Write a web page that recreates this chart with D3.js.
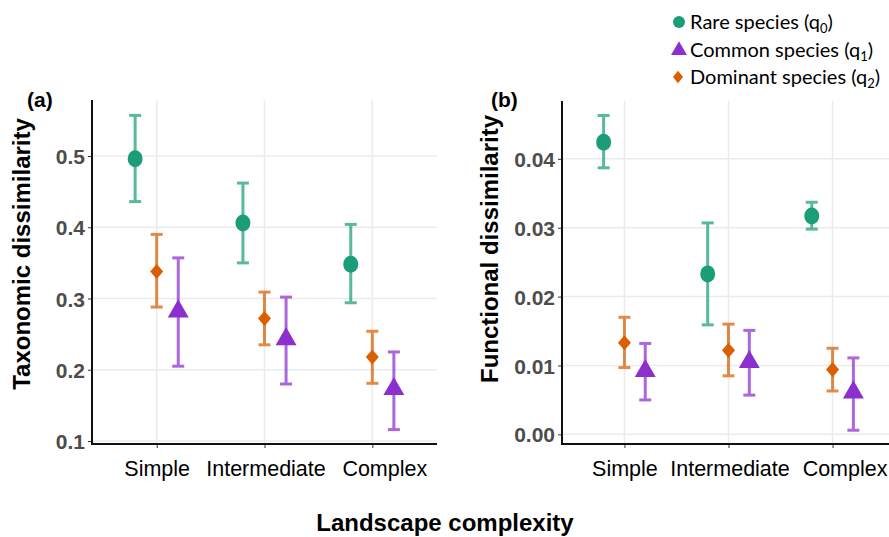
<!DOCTYPE html>
<html>
<head>
<meta charset="utf-8">
<script src="https://cdn.jsdelivr.net/npm/d3@7"></script>
<style>
  body { margin: 0; background: #fff; }
  svg { display: block; }
  .arial { font-family: 'Liberation Sans', Arial, Helvetica, sans-serif; }
</style>
</head>
<body>
<svg id="chart" width="889" height="537"></svg>
<script>
// categories and series
const categories = ['Simple', 'Intermediate', 'Complex']

// (a) taxonomic dissimilarity: mean, lower, upper
const taxRare = [0.496, 0.406, 0.348]
const taxRareLo = [0.436, 0.350, 0.294]
const taxRareHi = [0.557, 0.462, 0.404]
const taxDom = [0.338, 0.272, 0.218]
const taxDomLo = [0.288, 0.235, 0.181]
const taxDomHi = [0.390, 0.309, 0.254]
const taxCom = [0.282, 0.243, 0.173]
const taxComLo = [0.205, 0.180, 0.116]
const taxComHi = [0.357, 0.302, 0.225]

// (b) functional dissimilarity
const funRare = [0.0424, 0.0233, 0.0317]
const funRareLo = [0.0387, 0.0159, 0.0298]
const funRareHi = [0.0463, 0.0307, 0.0337]
const funDom = [0.0133, 0.0122, 0.0094]
const funDomLo = [0.0097, 0.0085, 0.0063]
const funDomHi = [0.0170, 0.0160, 0.0125]
const funCom = [0.0092, 0.0105, 0.0061]
const funComLo = [0.0050, 0.0057, 0.0006]
const funComHi = [0.0132, 0.0151, 0.0111]

const taxTicks = [0.1, 0.2, 0.3, 0.4, 0.5]
const funTicks = [0, 0.01, 0.02, 0.03, 0.04]

const colors = { rare: '#1b9e77', dominant: '#d95f02', common: '#8b2fcf' }
const dodge = { rare: -0.2, dominant: 0, common: 0.2 }
// category labels sit a little right of their ticks in the original
const labelShift = [0, 1, 12]

function rows(mean, lo, hi, key) {
    return categories.map((c, i) => ({ cat: c, key: key, v: mean[i], lo: lo[i], hi: hi[i] }))
}

const svg = d3.select('#chart')

function panel(opts) {
    const g = svg.append('g')
    const x = d3.scalePoint().domain(categories).range([opts.left, opts.right]).padding(0.6)
    const y = d3.scaleLinear().domain(opts.domain).range([opts.bottom, opts.top])
    const step = x.step()

    // grid
    g.selectAll('.hgrid').data(opts.ticks).enter().append('line')
        .attr('x1', opts.left).attr('x2', opts.right)
        .attr('y1', d => y(d)).attr('y2', d => y(d))
        .style('stroke', '#ebebeb').style('stroke-width', 1.5)
    g.selectAll('.vgrid').data(categories).enter().append('line')
        .attr('x1', d => x(d)).attr('x2', d => x(d))
        .attr('y1', opts.top).attr('y2', opts.bottom)
        .style('stroke', '#ebebeb').style('stroke-width', 1.5)

    // axes
    const yAxis = d3.axisLeft(y).tickValues(opts.ticks).tickFormat(d3.format(opts.fmt)).tickSize(4).tickPadding(3)
    const ya = g.append('g').attr('transform', `translate(${opts.left},0)`).call(yAxis)
    ya.attr('font-family', null)
    ya.select('.domain').remove()
    ya.selectAll('line').style('stroke', '#333')
    ya.selectAll('text').attr('class', 'arial')
        .attr('font-weight', 'bold').attr('font-size', 21).attr('fill', '#4d4d4d').attr('dy', '0.36em')

    const xAxis = d3.axisBottom(x).tickSize(4).tickPadding(13)
    const xa = g.append('g').attr('transform', `translate(0,${opts.bottom})`).call(xAxis)
    xa.attr('font-family', null)
    xa.select('.domain').remove()
    xa.selectAll('line').style('stroke', '#333')
    xa.selectAll('text').attr('class', 'arial')
        .attr('font-size', 21.5).attr('fill', '#000')
        .attr('dx', (d, i) => labelShift[i])

    g.append('line').attr('x1', opts.left).attr('x2', opts.left)
        .attr('y1', opts.top).attr('y2', opts.bottom + 1).style('stroke', '#111').style('stroke-width', 2)
    g.append('line').attr('x1', opts.left).attr('x2', opts.right)
        .attr('y1', opts.bottom).attr('y2', opts.bottom).style('stroke', '#111').style('stroke-width', 2)

    const data = [].concat(opts.rare, opts.dominant, opts.common)
    const px = d => x(d.cat) + dodge[d.key] * step

    // error bars
    const eb = g.selectAll('.eb').data(data).enter().append('g')
        .style('stroke', d => colors[d.key]).style('stroke-width', 3).style('opacity', 0.72)
    eb.append('line').attr('x1', px).attr('x2', px).attr('y1', d => y(d.lo)).attr('y2', d => y(d.hi))
    eb.append('line').attr('x1', d => px(d) - 6).attr('x2', d => px(d) + 6).attr('y1', d => y(d.lo)).attr('y2', d => y(d.lo))
    eb.append('line').attr('x1', d => px(d) - 6).attr('x2', d => px(d) + 6).attr('y1', d => y(d.hi)).attr('y2', d => y(d.hi))

    // points
    g.selectAll('.pt').data(opts.rare).enter().append('ellipse')
        .attr('cx', px).attr('cy', d => y(d.v)).attr('rx', 7.5).attr('ry', 8.5)
        .style('fill', colors.rare)
    g.selectAll('.pd').data(opts.dominant).enter().append('path')
        .attr('d', d3.symbol(d3.symbolDiamond2, 120))
        .attr('transform', d => `translate(${px(d)},${y(d.v)}) scale(0.95,1.1)`)
        .style('fill', colors.dominant)
    g.selectAll('.pc').data(opts.common).enter().append('path')
        .attr('d', d3.symbol(d3.symbolTriangle, 190))
        .attr('transform', d => `translate(${px(d)},${y(d.v)})`)
        .style('fill', colors.common)

    // titles
    svg.append('text').attr('transform', `translate(${opts.titleX},${opts.titleY}) rotate(-90)`)
        .attr('class', 'arial').attr('text-anchor', 'middle')
        .attr('font-weight', 'bold').attr('font-size', 24).text(opts.title)
    svg.append('text').attr('x', opts.tagX).attr('y', 107).attr('class', 'arial')
        .attr('font-weight', 'bold').attr('font-size', 21).text(opts.tag)
}

panel({
    left: 92, right: 437, top: 100, bottom: 444,
    domain: [0.0958, 0.5786], ticks: taxTicks, fmt: '.1f',
    rare: rows(taxRare, taxRareLo, taxRareHi, 'rare'),
    dominant: rows(taxDom, taxDomLo, taxDomHi, 'dominant'),
    common: rows(taxCom, taxComLo, taxComHi, 'common'),
    title: 'Taxonomic dissimilarity', titleX: 30, titleY: 254, tag: '(a)', tagX: 27
})

panel({
    left: 562, right: 895, top: 101, bottom: 444,
    domain: [-0.0014, 0.0484], ticks: funTicks, fmt: '.2f',
    rare: rows(funRare, funRareLo, funRareHi, 'rare'),
    dominant: rows(funDom, funDomLo, funDomHi, 'dominant'),
    common: rows(funCom, funComLo, funComHi, 'common'),
    title: 'Functional dissimilarity', titleX: 498, titleY: 249, tag: '(b)', tagX: 491
})

// x title
svg.append('text').attr('x', 445).attr('y', 531).attr('text-anchor', 'middle')
    .attr('class', 'arial').attr('font-weight', 'bold')
    .attr('font-size', 24).text('Landscape complexity')

// legend
const legendLabels = ['Rare species (q', 'Common species (q', 'Dominant species (q']
const legendSubs = ['0', '1', '2']
const legendKeys = ['rare', 'common', 'dominant']
const lg = svg.append('g').attr('transform', 'translate(679,0)')
legendKeys.forEach((k, i) => {
    const cy = 22 + i * 27.5
    if (k === 'rare') lg.append('circle').attr('cx', 0).attr('cy', cy).attr('r', 6).style('fill', colors.rare)
    if (k === 'common') lg.append('path').attr('d', d3.symbol(d3.symbolTriangle, 110)).attr('transform', `translate(0,${cy + 1})`).style('fill', colors.common)
    if (k === 'dominant') lg.append('path').attr('d', d3.symbol(d3.symbolDiamond2, 80)).attr('transform', `translate(-1,${cy}) scale(0.9,1.1)`).style('fill', colors.dominant)
    const t = lg.append('text').attr('x', 11).attr('y', cy + 7)
        .attr('font-family', 'Lato, Open Sans, sans-serif').attr('font-size', 20).attr('fill', '#000')
    t.append('tspan').text(legendLabels[i])
    t.append('tspan').attr('font-size', 13).attr('dy', 4).text(legendSubs[i])
    t.append('tspan').attr('dy', -4).text(')')
})
</script>
</body>
</html>
